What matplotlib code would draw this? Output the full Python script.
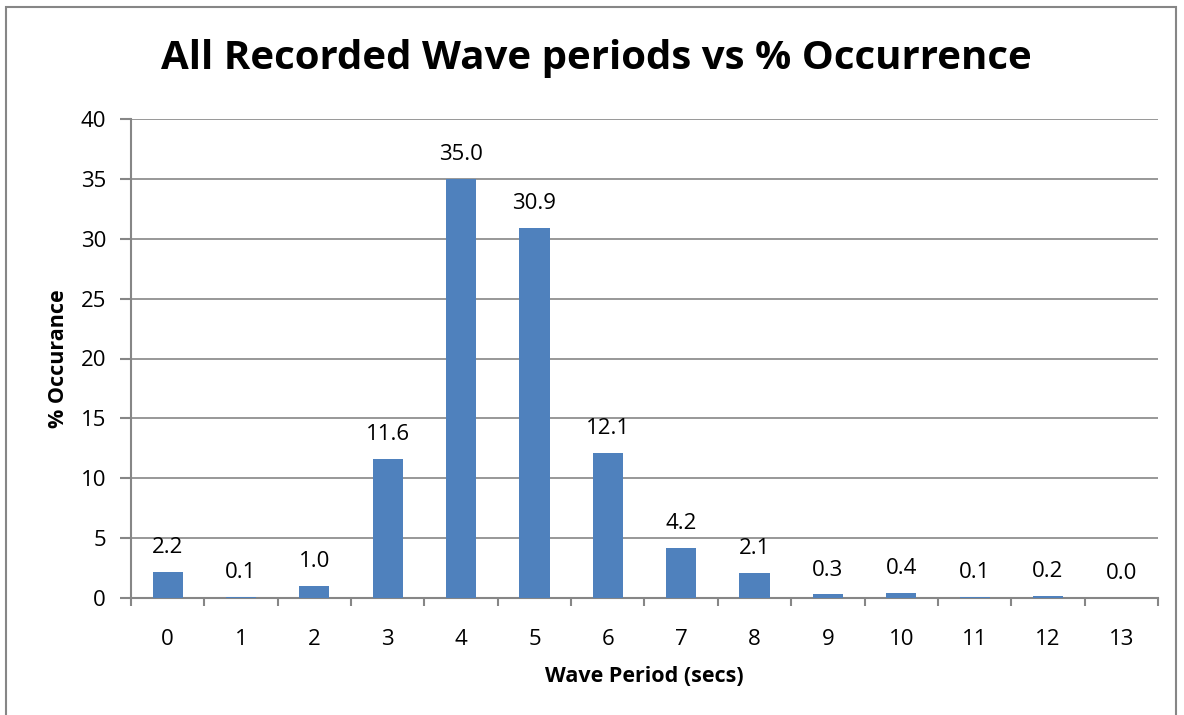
import matplotlib.pyplot as plt
import numpy as np
from matplotlib.patches import Rectangle

# wave period categories and % occurrence
periods = list(range(14))
occurrence = [2.2, 0.1, 1.0, 11.6, 35.0, 30.9, 12.1, 4.2, 2.1, 0.3, 0.4, 0.1, 0.2, 0.0]
y_ticks = [0, 5, 10, 15, 20, 25, 30, 35, 40]

plt.rcParams['font.family'] = ['Open Sans', 'DejaVu Sans']

fig = plt.figure(figsize=(11.84, 7.15), dpi=100)
ax = fig.add_axes([131 / 1184, 1 - 598 / 715, (1158 - 131) / 1184, (598 - 119) / 715])

x = np.array(periods)
bars = ax.bar(x, occurrence, width=0.41, color='#4F81BD', zorder=3)

for xi, v in zip(x, occurrence):
    ax.annotate(f'{v:.1f}', (xi, v), xytext=(0, 10), textcoords='offset points',
                ha='center', va='bottom', fontsize=16)

ax.set_xlim(-0.5, 13.5)
ax.set_ylim(0, 40)
ax.set_yticks(y_ticks)
ax.set_xticks(x)
ax.set_xticklabels([str(p) for p in periods])
ax.set_xticks(np.arange(-0.5, 14, 1), minor=True)
ax.tick_params(axis='x', which='major', length=0, labelsize=16, pad=22)
ax.tick_params(axis='x', which='minor', length=6, width=1.5, color='#868686', direction='out')
ax.tick_params(axis='y', length=8, width=1.5, color='#868686', labelsize=16, pad=10)

ax.grid(axis='y', color='#868686', linewidth=1.2, zorder=0)
for side in ['top', 'right']:
    ax.spines[side].set_visible(False)
for side in ['left', 'bottom']:
    ax.spines[side].set_color('#868686')
    ax.spines[side].set_linewidth(1.5)

ax.set_xlabel('Wave Period (secs)', fontsize=15.5, fontweight='bold', labelpad=12)
ax.set_ylabel('% Occurance', fontsize=15.5, fontweight='bold', labelpad=8)

fig.text(596 / 1184, 1 - 58 / 715, 'All Recorded Wave periods vs % Occurrence',
         ha='center', va='center', fontsize=29, fontweight='bold')

# chart border
fig.patches.append(Rectangle((6 / 1184, -0.1), (1176 - 6) / 1184, 1.1 - 7 / 715,
                             transform=fig.transFigure, fill=False,
                             edgecolor='#868686', linewidth=1.5))

fig.savefig('out.png', dpi=100)
